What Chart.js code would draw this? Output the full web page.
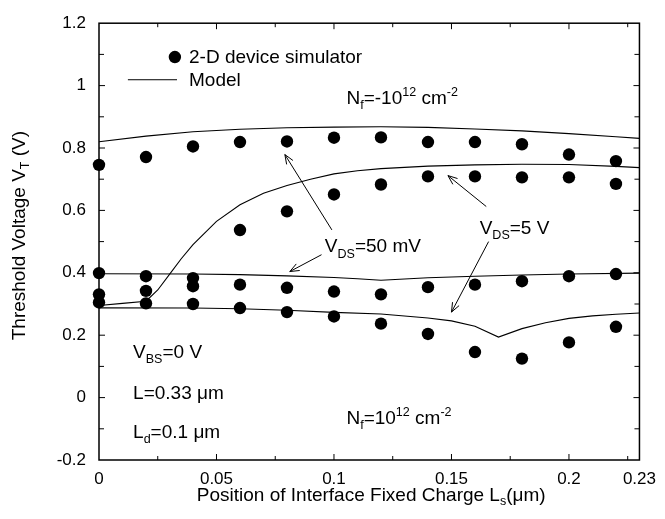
<!DOCTYPE html>
<html>
<head>
<meta charset="utf-8">
<script src="https://cdn.jsdelivr.net/npm/chart.js@4.4.0/dist/chart.umd.min.js"></script>
<style>
html,body{margin:0;padding:0;background:#fff;}
#wrap{width:665px;height:519px;}
</style>
</head>
<body>
<div id="wrap"><canvas id="c" width="665" height="519"></canvas></div>
<script>
// ---- Data ----
const simX = [0, 0.02, 0.04, 0.06, 0.08, 0.10, 0.12, 0.14, 0.16, 0.18, 0.20, 0.22];
const simVds50mV_NfNeg = [0.746, 0.771, 0.805, 0.819, 0.821, 0.833, 0.834, 0.819, 0.819, 0.812, 0.779, 0.758];
const simVds5V_NfNeg   = [0.331, 0.342, 0.383, 0.537, 0.597, 0.651, 0.683, 0.709, 0.709, 0.706, 0.706, 0.685];
const simVds50mV_NfPos = [0.399, 0.389, 0.357, 0.362, 0.352, 0.340, 0.331, 0.354, 0.362, 0.373, 0.389, 0.396];
const simVds5V_NfPos   = [0.305, 0.302, 0.300, 0.287, 0.274, 0.260, 0.237, 0.204, 0.146, 0.125, 0.177, 0.227];

const modelA_x = [0, 0.02, 0.04, 0.06, 0.08, 0.10, 0.12, 0.14, 0.16, 0.18, 0.20, 0.22, 0.23];
const modelA_y = [0.820, 0.838, 0.852, 0.860, 0.865, 0.867, 0.868, 0.866, 0.861, 0.855, 0.846, 0.836, 0.831];
const modelB_x = [0, 0.01, 0.02, 0.025, 0.03, 0.035, 0.04, 0.05, 0.06, 0.07, 0.08, 0.09, 0.10, 0.11, 0.12, 0.14, 0.16, 0.18, 0.20, 0.22, 0.23];
const modelB_y = [0.295, 0.302, 0.309, 0.345, 0.395, 0.445, 0.490, 0.565, 0.618, 0.655, 0.680, 0.700, 0.717, 0.727, 0.734, 0.742, 0.746, 0.748, 0.747, 0.741, 0.737];
const modelC_x = [0, 0.04, 0.06, 0.08, 0.10, 0.11, 0.12, 0.13, 0.14, 0.16, 0.18, 0.20, 0.23];
const modelC_y = [0.397, 0.396, 0.394, 0.390, 0.385, 0.381, 0.376, 0.380, 0.384, 0.389, 0.393, 0.396, 0.399];
const modelD_x = [0, 0.04, 0.06, 0.08, 0.10, 0.12, 0.14, 0.15, 0.16, 0.17, 0.18, 0.19, 0.20, 0.21, 0.22, 0.23];
const modelD_y = [0.2875, 0.287, 0.285, 0.280, 0.273, 0.268, 0.255, 0.246, 0.229, 0.194, 0.221, 0.240, 0.254, 0.262, 0.267, 0.271];

const xTickLabels = [0, 0.05, 0.1, 0.15, 0.2, 0.23];
const xMinorTicks = [0.025, 0.075, 0.125, 0.175, 0.225];
const yTickLabels = [-0.2, 0, 0.2, 0.4, 0.6, 0.8, 1, 1.2];
const yMinorTicks = [-0.1, 0.1, 0.3, 0.5, 0.7, 0.9, 1.1];

const FONT = "'Liberation Sans', Arial, Helvetica, sans-serif";

const pts = (xs, ys) => xs.map((x, i) => ({x: x, y: ys[i]}));

function simSet(ys) {
  return {type: 'scatter', data: pts(simX, ys), showLine: false, pointRadius: 6.2, pointHoverRadius: 6.2,
    backgroundColor: '#000', borderColor: '#000', borderWidth: 0, clip: false};
}
function modelSet(xs, ys) {
  return {type: 'scatter', data: pts(xs, ys), showLine: true, pointRadius: 0, borderColor: '#000',
    borderWidth: 1.1, tension: 0, fill: false, clip: false};
}

// rich text: parts [text, mode] mode: 0 normal, 1 sub, 2 sup
function richWidth(ctx, parts, size) {
  let w = 0;
  for (const [t, m] of parts) {
    ctx.font = (m ? size * 0.66 : size) + 'px ' + FONT;
    w += ctx.measureText(t).width;
  }
  return w;
}
function drawRich(ctx, parts, x, y, size) {
  let cx = x;
  for (const [t, m] of parts) {
    const s = m ? size * 0.66 : size;
    ctx.font = s + 'px ' + FONT;
    const dy = m === 1 ? size * 0.28 : (m === 2 ? -size * 0.42 : 0);
    ctx.fillText(t, cx, y + dy);
    cx += ctx.measureText(t).width;
  }
}

const notes = [
  {x: 0.0961, y: 0.466, parts: [['V',0],['DS',1],['=50 mV',0]]},
  {x: 0.162, y: 0.525, parts: [['V',0],['DS',1],['=5 V',0]]},
  {x: 0.1053, y: 0.941, parts: [['N',0],['f',1],['=-10',0],['12',2],[' cm',0],['-2',2]]},
  {x: 0.1053, y: -0.084, parts: [['N',0],['f',1],['=10',0],['12',2],[' cm',0],['-2',2]]},
  {x: 0.0145, y: 0.128, parts: [['V',0],['BS',1],['=0 V',0]]},
  {x: 0.0145, y: -0.003, parts: [['L=0.33 \u03bcm',0]]},
  {x: 0.0145, y: -0.128, parts: [['L',0],['d',1],['=0.1 \u03bcm',0]]}
];
const arrows = [
  {x1: 0.0991, y1: 0.5375, x2: 0.0791, y2: 0.779},
  {x1: 0.0947, y1: 0.458, x2: 0.0812, y2: 0.404},
  {x1: 0.1648, y1: 0.6125, x2: 0.1485, y2: 0.7116},
  {x1: 0.1658, y1: 0.500, x2: 0.1500, y2: 0.274}
];

const decor = {
  id: 'decor',
  afterDraw(chart) {
    const ctx = chart.ctx, xs = chart.scales.x, ys = chart.scales.y, a = chart.chartArea;
    ctx.save();
    ctx.strokeStyle = '#000'; ctx.fillStyle = '#000';
    // frame
    ctx.lineWidth = 1.5;
    ctx.strokeRect(a.left, a.top, a.right - a.left, a.bottom - a.top);
    // inward ticks on all four sides
    ctx.lineWidth = 1;
    ctx.beginPath();
    const tickX = (v, len) => { const p = xs.getPixelForValue(v);
      ctx.moveTo(p, a.bottom); ctx.lineTo(p, a.bottom - len);
      ctx.moveTo(p, a.top); ctx.lineTo(p, a.top + len); };
    const tickY = (v, len) => { const p = ys.getPixelForValue(v);
      ctx.moveTo(a.left, p); ctx.lineTo(a.left + len, p);
      ctx.moveTo(a.right, p); ctx.lineTo(a.right - len, p); };
    xTickLabels.forEach(v => { if (v > 0 && v < 0.23) tickX(v, 6); });
    xMinorTicks.forEach(v => tickX(v, 4));
    yTickLabels.forEach(v => { if (v > -0.2 && v < 1.2) tickY(v, 6); });
    yMinorTicks.forEach(v => tickY(v, 5));
    ctx.stroke();
    // arrows
    ctx.lineWidth = 1;
    arrows.forEach(ar => {
      const x1 = xs.getPixelForValue(ar.x1), y1 = ys.getPixelForValue(ar.y1);
      const x2 = xs.getPixelForValue(ar.x2), y2 = ys.getPixelForValue(ar.y2);
      const ang = Math.atan2(y2 - y1, x2 - x1), L = 10, w = 0.38;
      ctx.beginPath();
      ctx.moveTo(x1, y1); ctx.lineTo(x2, y2);
      ctx.moveTo(x2 - L * Math.cos(ang - w), y2 - L * Math.sin(ang - w));
      ctx.lineTo(x2, y2);
      ctx.lineTo(x2 - L * Math.cos(ang + w), y2 - L * Math.sin(ang + w));
      ctx.stroke();
    });
    // annotations
    ctx.textBaseline = 'alphabetic'; ctx.textAlign = 'left';
    notes.forEach(n => drawRich(ctx, n.parts, xs.getPixelForValue(n.x), ys.getPixelForValue(n.y), 19));
    // legend
    const lx = xs.getPixelForValue(0.0323), ly = ys.getPixelForValue(1.0916);
    ctx.beginPath(); ctx.arc(lx, ly, 6.2, 0, Math.PI * 2); ctx.fill();
    ctx.textBaseline = 'middle';
    ctx.font = '19px ' + FONT;
    ctx.fillText('2-D device simulator', xs.getPixelForValue(0.0383), ly + 1);
    const my = ys.getPixelForValue(1.0188);
    ctx.beginPath(); ctx.moveTo(xs.getPixelForValue(0.0123), my); ctx.lineTo(xs.getPixelForValue(0.0332), my); ctx.stroke();
    ctx.fillText('Model', xs.getPixelForValue(0.0383), my + 1);
    // axis titles
    ctx.textBaseline = 'middle';
    const xt = [['Position of Interface Fixed Charge L',0],['s',1],['(\u03bcm)',0]];
    const xw = richWidth(ctx, xt, 19);
    drawRich(ctx, xt, (a.left + a.right) / 2 - xw / 2 + 2, 496, 19);
    const yt = [['Threshold Voltage V',0],['T',1],[' (V)',0]];
    const yw = richWidth(ctx, yt, 19);
    ctx.translate(20, (a.top + a.bottom) / 2 - 6);
    ctx.rotate(-Math.PI / 2);
    drawRich(ctx, yt, -yw / 2, 0, 19);
    ctx.restore();
  }
};

new Chart(document.getElementById('c'), {
  type: 'scatter',
  data: {
    datasets: [
      simSet(simVds50mV_NfNeg), simSet(simVds5V_NfNeg), simSet(simVds50mV_NfPos), simSet(simVds5V_NfPos),
      modelSet(modelA_x, modelA_y), modelSet(modelB_x, modelB_y), modelSet(modelC_x, modelC_y), modelSet(modelD_x, modelD_y)
    ]
  },
  options: {
    responsive: false, animation: false, devicePixelRatio: 1,
    layout: {padding: {left: 0, top: 12, right: 25, bottom: 0}},
    plugins: {legend: {display: false}, tooltip: {enabled: false}},
    scales: {
      x: {
        type: 'linear', min: 0, max: 0.23,
        afterBuildTicks: s => { s.ticks = xTickLabels.map(v => ({value: v})); },
        afterFit: s => { s.height = 59; },
        grid: {display: false, drawTicks: false},
        border: {display: false},
        ticks: {padding: 9, color: '#000', font: {family: FONT, size: 17}, maxRotation: 0, autoSkip: false,
          callback: v => String(Number(v.toFixed(3)))}
      },
      y: {
        type: 'linear', min: -0.2, max: 1.2,
        afterBuildTicks: s => { s.ticks = yTickLabels.map(v => ({value: v})); },
        afterFit: s => { s.width = 99; },
        grid: {display: false, drawTicks: false},
        border: {display: false},
        ticks: {padding: 13, color: '#000', font: {family: FONT, size: 17}, autoSkip: false,
          callback: v => String(Number(v.toFixed(2)))}
      }
    }
  },
  plugins: [decor]
});
</script>
</body>
</html>
